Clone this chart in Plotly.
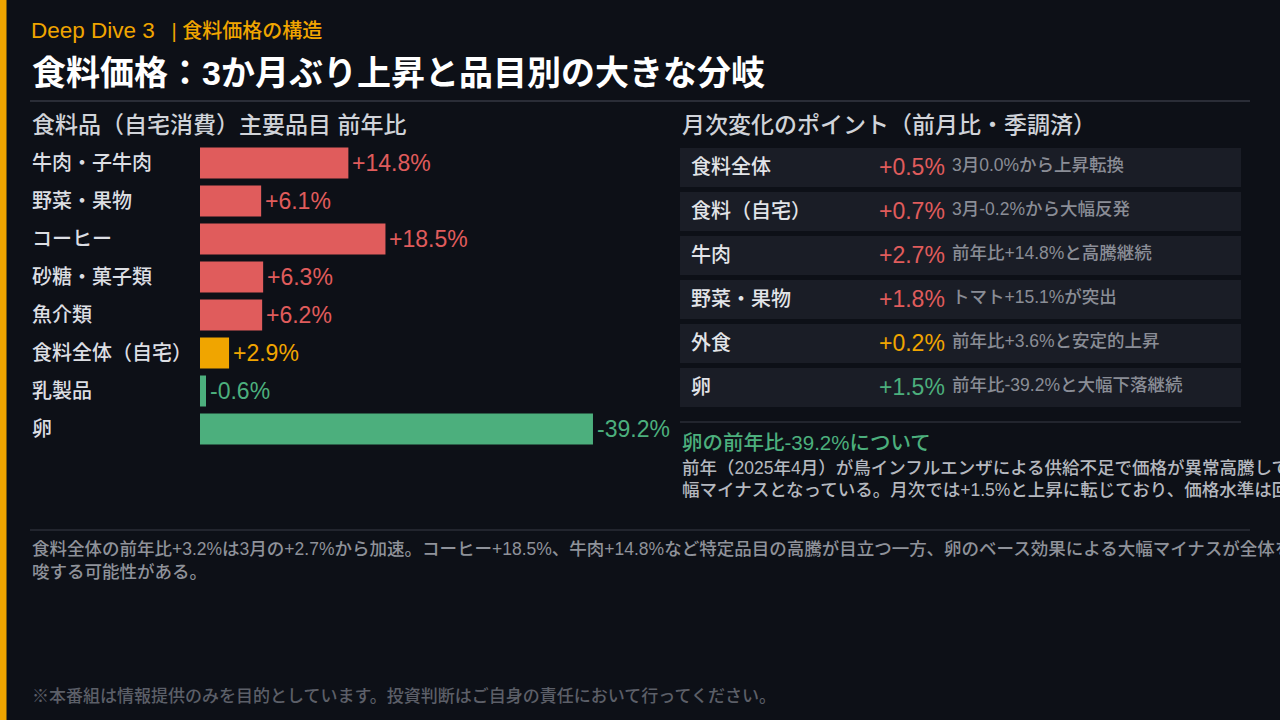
import plotly.graph_objects as go

# ---------------- data ----------------
categories = ["牛肉・子牛肉", "野菜・果物", "コーヒー", "砂糖・菓子類", "魚介類", "食料全体（自宅）", "乳製品", "卵"]
yoy_values = [14.8, 6.1, 18.5, 6.3, 6.2, 2.9, -0.6, -39.2]
aggregate_category = "食料全体（自宅）"

mom_items = ["食料全体", "食料（自宅）", "牛肉", "野菜・果物", "外食", "卵"]
mom_values = [0.5, 0.7, 2.7, 1.8, 0.2, 1.5]
mom_notes = ["3月0.0%から上昇転換", "3月-0.2%から大幅反発", "前年比+14.8%と高騰継続",
             "トマト+15.1%が突出", "前年比+3.6%と安定的上昇", "前年比-39.2%と大幅下落継続"]

kicker_series = "Deep Dive 3"
kicker_topic = "食料価格の構造"
title = "食料価格：3か月ぶり上昇と品目別の大きな分岐"
left_heading = "食料品（自宅消費）主要品目 前年比"
right_heading = "月次変化のポイント（前月比・季調済）"
egg_heading = "卵の前年比-39.2%について"
egg_body = ["前年（2025年4月）が鳥インフルエンザによる供給不足で価格が異常高騰していたため、前年比では大",
            "幅マイナスとなっている。月次では+1.5%と上昇に転じており、価格水準は回復傾向にある。"]
footer_lines = ["食料全体の前年比+3.2%は3月の+2.7%から加速。コーヒー+18.5%、牛肉+14.8%など特定品目の高騰が目立つ一方、卵のベース効果による大幅マイナスが全体を押し下げている点を示",
                "唆する可能性がある。"]
disclaimer = "※本番組は情報提供のみを目的としています。投資判断はご自身の責任において行ってください。"

# ---------------- style ----------------
W, H = 1280, 720
BG = "#0d1017"
ORANGE = "#f0a500"
RED = "#e05c5c"
GREEN = "#4caf7d"
ROW_BG = "#1a1d26"
RULE = "#2a2d37"
FONT = "'Liberation Sans', Arial, 'Noto Sans CJK JP', sans-serif"
mom_colors = [RED, RED, RED, RED, ORANGE, GREEN]
NB = "\u00a0"


def px(x):
    return x / W


def py(y):
    return 1 - y / H


def bar_color(cat, v):
    if cat == aggregate_category:
        return ORANGE
    return RED if v >= 0 else GREEN


colors = [bar_color(c, v) for c, v in zip(categories, yoy_values)]

fig = go.Figure()
fig.add_trace(go.Bar(
    x=[abs(v) for v in yoy_values], y=categories, orientation="h",
    marker=dict(color=colors, line=dict(width=0)), hoverinfo="skip", showlegend=False,
))

annotations = []
shapes = []

# left stripe
shapes.append(dict(type="rect", xref="paper", yref="paper", x0=0, x1=px(6.5), y0=0, y1=1,
                   fillcolor=ORANGE, line=dict(width=0), layer="below"))


def text(x, y, s, size, color, bold=False, xanchor="left", xref="paper", yref="paper", xshift=0, weight=None):
    f = dict(family=FONT, size=size, color=color)
    if weight:
        f["weight"] = weight
    annotations.append(dict(
        x=x, y=y, xref=xref, yref=yref, text=f"<b>{s}</b>" if bold else s,
        showarrow=False, xanchor=xanchor, yanchor="middle", xshift=xshift,
        font=f, align="left",
    ))


kicker_html = (f'<span style="font-size:22.5px">{kicker_series}</span>'
               f'{NB * 3}|{NB * 1}{kicker_topic}')
text(px(29), py(31), kicker_html, 20, ORANGE, weight=500)
text(px(30), py(73), title, 34, "#ffffff", bold=True)
shapes.append(dict(type="line", xref="paper", yref="paper", x0=px(30), x1=px(1250), y0=py(101), y1=py(101),
                   line=dict(color=RULE, width=2)))

text(px(30), py(125), left_heading, 23, "#d0d3d9", weight=500)
text(px(680), py(125), right_heading, 23, "#d0d3d9", weight=500)

# bar labels
for c, v, col in zip(categories, yoy_values, colors):
    text(px(30), c, c, 20, "#dcdee3", yref="y", weight=500)
    text(abs(v), c, f"{v:+.1f}%", 23, col, xref="x", yref="y", xshift=2)

# right table
for i, (lab, v, note, col) in enumerate(zip(mom_items, mom_values, mom_notes, mom_colors)):
    top = 148 + 44 * i
    shapes.append(dict(type="rect", xref="paper", yref="paper", x0=px(680), x1=px(1241),
                       y0=py(top + 39), y1=py(top), fillcolor=ROW_BG, line=dict(width=0), layer="below"))
    cy = top + 19
    text(px(689), py(cy), lab, 20, "#e2e4e8", weight=500)
    text(px(947), py(cy), f"{v:+.1f}%", 23, col, xanchor="right")
    text(px(950), py(cy - 2), note, 17.5, "#8a8d96", weight=500)

shapes.append(dict(type="line", xref="paper", yref="paper", x0=px(680), x1=px(1241), y0=py(422), y1=py(422),
                   line=dict(color=RULE, width=1.5)))
text(px(680), py(442), egg_heading, 20.5, GREEN, weight=500)
for k, line in enumerate(egg_body):
    text(px(680), py(468 + 22 * k), line, 17.5, "#b5b8bf", weight=500)

shapes.append(dict(type="line", xref="paper", yref="paper", x0=px(30), x1=px(1250), y0=py(530), y1=py(530),
                   line=dict(color=RULE, width=1.5)))
for k, line in enumerate(footer_lines):
    text(px(30), py(549 + 23 * k), line, 17.5, "#8f929a", weight=500)

text(px(30), py(696), disclaimer, 17, "#5c5f68", weight=500)

fig.update_layout(
    width=W, height=H, margin=dict(l=0, r=0, t=0, b=0),
    paper_bgcolor=BG, plot_bgcolor=BG,
    bargap=1 - 31 / 38,
    xaxis=dict(domain=[px(200), px(601)], range=[0, 40], visible=False, fixedrange=True),
    yaxis=dict(domain=[py(448), py(144)], range=[len(categories) - 0.5, -0.5], visible=False,
               type="category", fixedrange=True),
    annotations=annotations, shapes=shapes, showlegend=False,
)

fig.write_html("out.html", config={"displayModeBar": False})
